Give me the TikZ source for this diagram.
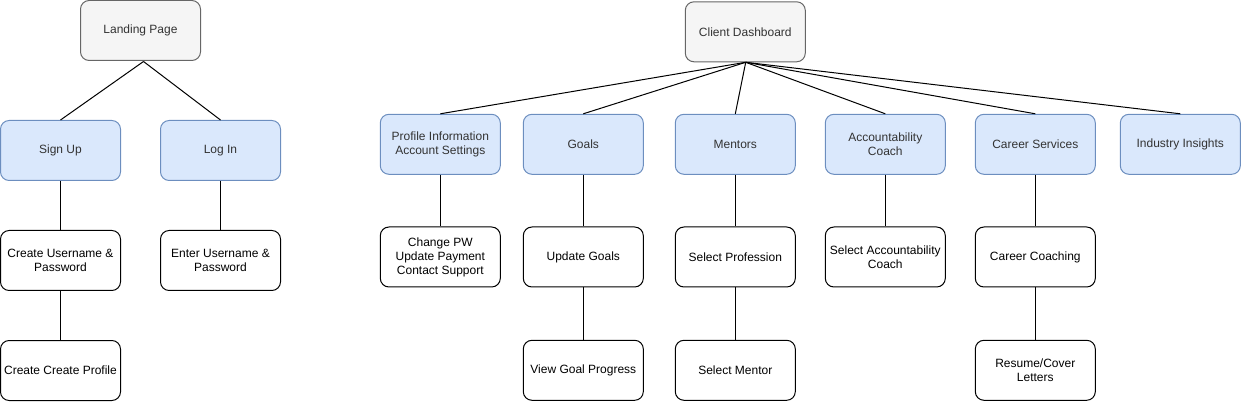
\documentclass[tikz,border=0pt]{standalone}
\usepackage{fontspec}
\setmainfont{Liberation Sans}
\definecolor{grayfill}{HTML}{F5F5F5}
\definecolor{graystroke}{HTML}{666666}
\definecolor{graytext}{HTML}{333333}
\definecolor{bluefill}{HTML}{DAE8FC}
\definecolor{bluestroke}{HTML}{6C8EBF}
\tikzset{
  box/.style={draw, rounded corners=6.5pt, minimum width=90pt, minimum height=45pt, inner sep=0pt, align=center, line width=0.75pt, font=\fontsize{9}{10.5}\selectfont, text=graytext},
  rootbox/.style={box, fill=grayfill, draw=graystroke},
  catbox/.style={box, fill=bluefill, draw=bluestroke},
  leafbox/.style={box, fill=white, draw=black, text=black},
  link/.style={draw=black, line width=0.75pt}
}
\begin{document}
\begin{tikzpicture}[x=0.75pt, y=-0.75pt]
\useasboundingbox (0,0) rectangle (1241,402);
% left tree
\node[rootbox] (lp) at (140.5,30.5) {Landing Page};
\node[catbox] (su) at (60.5,150.5) {Sign Up};
\node[catbox] (li) at (220.5,150.5) {Log In};
\node[leafbox] (cu) at (60.5,260.5) {Create Username \&\\Password};
\node[leafbox] (eu) at (220.5,260.5) {Enter Username \&\\Password};
\node[leafbox] (cp) at (60.5,370.5) {Create Create Profile};
\coordinate (lpj) at (143.5,61.5);
\draw[link] (lpj) -- (su.north);
\draw[link] (lpj) -- (li.north);
\draw[link] (su) -- (cu);
\draw[link] (li) -- (eu);
\draw[link] (cu) -- (cp);
% right tree
\node[rootbox] (cd) at (745.3,31.8) {Client Dashboard};
\node[catbox] (pi) at (440.3,144.3) {Profile Information\\Account Settings};
\node[catbox] (go) at (583.3,144.3) {Goals};
\node[catbox] (me) at (735.3,144.3) {Mentors};
\node[catbox] (ac) at (885.3,144.3) {Accountability\\Coach};
\node[catbox] (cs) at (1035.3,144.3) {Career Services};
\node[catbox] (ii) at (1180.3,144.3) {Industry Insights};
\node[leafbox] (pw) at (440.3,257) {Change PW\\Update Payment\\Contact Support};
\node[leafbox] (ug) at (583.3,257) {Update Goals};
\node[leafbox] (sp) at (735.3,257) {Select Profession};
\node[leafbox] (sa) at (885.3,257) {Select Accountability\\Coach};
\node[leafbox] (cc) at (1035.3,257) {Career Coaching};
\node[leafbox] (vg) at (583.3,370.3) {View Goal Progress};
\node[leafbox] (sm) at (735.3,370.3) {Select Mentor};
\node[leafbox] (rc) at (1035.3,370.3) {Resume/Cover\\Letters};
\coordinate (cdj) at (745.7,62.3);
\foreach \c in {pi,go,me,ac,cs,ii} \draw[link] (cdj) -- (\c.north);
\draw[link] (pi) -- (pw);
\draw[link] (go) -- (ug);
\draw[link] (me) -- (sp);
\draw[link] (ac) -- (sa);
\draw[link] (cs) -- (cc);
\draw[link] (ug) -- (vg);
\draw[link] (sp) -- (sm);
\draw[link] (cc) -- (rc);
\end{tikzpicture}
\end{document}
